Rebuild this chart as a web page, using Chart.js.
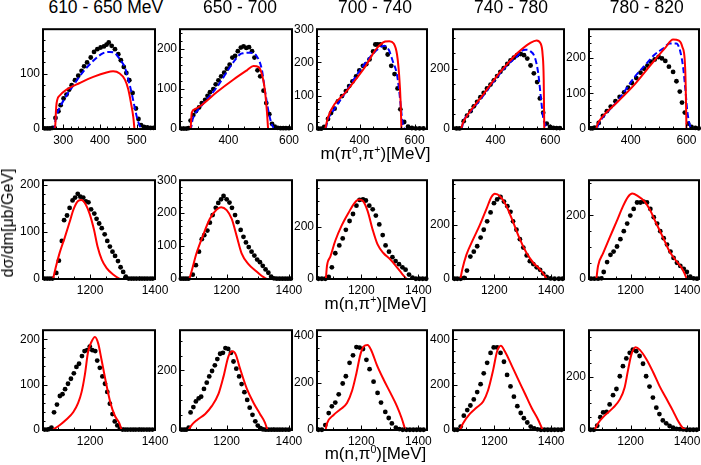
<!DOCTYPE html>
<html><head><meta charset="utf-8">
<script src="https://cdn.jsdelivr.net/npm/chart.js@4.4.0/dist/chart.umd.min.js"></script>
<style>
html,body{margin:0;padding:0;background:#fff;}
body{width:701px;height:465px;position:relative;overflow:hidden;font-family:"Liberation Sans",Arial,sans-serif;}
canvas{position:absolute;}
.t{position:absolute;white-space:nowrap;color:#000;line-height:1;}
.sp{font-size:0.62em;position:relative;top:-0.6em;}
</style></head><body>
<script>
// ---------- text ----------
const colTitles = ["610 - 650 MeV", "650 - 700", "700 - 740", "740 - 780", "780 - 820"];
const rowTitles = ['m(π<span class="sp">o</span>,π<span class="sp">+</span>)[MeV]',
                   'm(n,π<span class="sp">+</span>)[MeV]',
                   'm(n,π<span class="sp">0</span>)[MeV]'];
const yTitle = "dσ/dm[μb/GeV]";

// ---------- axis ranges & tick steps ----------
const xRanges = [
  [[245,550],[240,610],[245,645],[245,650],[250,645]],
  [[1055,1400],[1050,1410],[1045,1430],[1055,1445],[1053,1442]],
  [[1055,1400],[1050,1410],[1045,1430],[1055,1445],[1053,1442]]
];
const yMax = [[180,250,300,330,280],[210,300,380,365,310],[220,335,425,440,375]];
const xSteps = [[100,200,200,200,200],[200,200,200,200,200],[200,200,200,200,200]];
const ySteps = [[100,100,100,200,100],[100,100,200,200,200],[100,200,200,200,200]];

// ---------- row 1: m(pi0,pi+) ----------
const r1c1Dots = [[250,1],[257,1],[264,1],[271,2],[279,20],[287,32],[293,43],[301,55],[309,62],[316,71],[323,79],[332,88],[341,96],[350,105],[357,113],[365,120],[375,129],[384,139],[393,144],[402,147],[411,149],[418,152],[424,156],[432,150],[441,144],[450,135],[457,124],[465,112],[472,101],[480,88],[489,65],[498,37],[505,18],[512,7],[520,4],[529,3],[538,2],[546,2]];
const r1c1Red = [[278,0],[281,40],[284,53],[290,60],[309,71],[345,83],[382,94],[418,102],[436,104],[454,100],[468,89],[477,72],[484,49],[491,21],[494,0]];
const r1c1Blue = [[245,0],[275,0],[280,21],[291,39],[304,55],[327,78],[354,103],[382,123],[409,137],[427,139],[441,137],[454,126],[468,111],[477,90],[486,66],[495,38],[502,18],[509,5],[518,0],[550,0]];

const r1c2Dots = [[245,1],[253,1],[261,1],[268,2],[275,21],[284,35],[293,45],[303,54],[312,65],[323,73],[331,83],[339,92],[350,100],[358,112],[367,122],[376,132],[386,141],[395,151],[404,161],[413,179],[422,183],[431,195],[441,204],[450,207],[459,203],[468,205],[478,195],[486,179],[496,147],[505,132],[516,96],[525,65],[535,37],[544,13],[553,6],[563,3],[572,2],[581,2],[590,2],[600,2]];
const r1c2Red = [[275,0],[279,41],[290,50],[306,57],[361,92],[417,124],[461,147],[483,158],[500,155],[511,136],[520,100],[527,45],[531,0]];
const r1c2Blue = [[240,0],[275,0],[282,25],[306,53],[361,104],[416,167],[438,187],[450,190],[471,191],[493,183],[510,150],[521,95],[532,45],[543,12],[551,2],[560,0],[610,0]];

const r1c3Dots = [[250,1],[260,1],[271,6],[285,30],[296,48],[309,61],[321,83],[336,99],[350,114],[362,129],[374,143],[387,158],[399,176],[412,190],[424,195],[436,209],[449,233],[457,254],[465,254],[475,254],[491,244],[502,224],[515,190],[527,165],[538,122],[548,59],[562,21],[576,7],[590,3],[604,2],[618,2],[632,2]];
const r1c3Red = [[275,0],[285,35],[354,115],[415,181],[463,243],[493,263],[508,264],[524,257],[536,224],[544,158],[549,82],[552,0]];
const r1c3Blue = [[245,0],[275,0],[285,30],[300,50],[350,112],[400,175],[440,218],[466,240],[490,250],[506,238],[520,205],[535,167],[543,122],[551,56],[557,14],[562,2],[568,0],[645,0]];

const r1c4Dots = [[258,2],[269,2],[284,26],[296,44],[309,59],[321,75],[333,90],[345,105],[357,119],[369,134],[382,147],[394,161],[406,175],[418,189],[430,201],[443,215],[455,227],[467,236],[479,244],[492,248],[504,244],[516,233],[528,210],[540,184],[552,155],[562,101],[574,54],[587,18],[599,7],[611,4],[623,3],[635,3]];
const r1c4Red = [[275,0],[279,14],[284,26],[296,44],[355,114],[416,187],[455,227],[480,251],[526,284],[550,293],[565,282],[572,246],[576,163],[578,0]];
const r1c4Blue = [[245,0],[275,0],[284,28],[300,48],[350,104],[400,165],[450,218],[479,240],[495,258],[510,262],[526,258],[544,236],[556,184],[566,101],[574,38],[583,12],[594,0],[650,0]];

const r1c5Dots = [[256,2],[263,2],[270,4],[285,17],[300,37],[314,50],[328,63],[345,78],[360,90],[376,103],[390,116],[404,129],[420,143],[435,158],[448,169],[460,178],[472,189],[486,195],[500,202],[512,198],[524,191],[537,175],[552,160],[564,134],[576,105],[584,74],[594,46],[606,15],[618,6],[632,3],[644,2]];
const r1c5Red = [[276,0],[280,12],[288,24],[354,77],[414,125],[474,182],[522,226],[552,251],[573,248],[585,231],[594,191],[597,129],[600,0]];
const r1c5Blue = [[250,0],[276,0],[285,15],[300,33],[354,80],[415,147],[450,178],[486,209],[516,226],[540,240],[564,240],[578,217],[588,173],[596,112],[603,50],[612,11],[620,0],[645,0]];

// ---------- row 2: m(n,pi+) ----------
const r2c1Dots = [[1060,1],[1068,1],[1076,1],[1084,1],[1096,13],[1104,39],[1113,81],[1120,125],[1129,135],[1137,151],[1146,167],[1154,173],[1162,181],[1170,175],[1179,173],[1187,165],[1195,163],[1203,148],[1213,139],[1220,128],[1228,118],[1236,108],[1245,95],[1253,81],[1261,69],[1269,58],[1277,49],[1286,38],[1294,25],[1302,15],[1310,5],[1319,1],[1327,1],[1335,1],[1343,1],[1352,1],[1360,1],[1368,1],[1376,1],[1385,1],[1393,1]];
const r2c1Red = [[1086,0],[1094,24],[1106,55],[1122,88],[1137,121],[1149,148],[1163,166],[1173,168],[1187,158],[1199,138],[1212,105],[1223,69],[1236,41],[1251,23],[1272,9],[1290,1],[1294,0]];

const r2c2Dots = [[1053,1],[1061,1],[1069,1],[1077,1],[1091,13],[1101,42],[1111,83],[1120,121],[1128,133],[1138,147],[1146,171],[1155,194],[1165,216],[1173,231],[1182,242],[1190,252],[1200,242],[1209,232],[1217,216],[1227,194],[1235,173],[1245,149],[1254,128],[1262,111],[1271,97],[1280,83],[1289,71],[1298,59],[1307,51],[1316,40],[1325,29],[1334,19],[1343,7],[1352,2],[1361,1],[1370,1],[1379,1],[1388,1],[1397,1],[1406,1]];
const r2c2Red = [[1080,0],[1088,26],[1103,78],[1125,135],[1146,183],[1168,211],[1182,218],[1200,209],[1216,183],[1232,131],[1248,78],[1270,45],[1292,26],[1313,9],[1329,0]];

const r2c3Dots = [[1050,1],[1062,1],[1074,1],[1086,8],[1097,45],[1109,99],[1123,129],[1135,156],[1146,189],[1159,223],[1171,250],[1183,282],[1194,304],[1206,306],[1216,302],[1228,282],[1240,268],[1251,244],[1263,210],[1275,169],[1285,129],[1297,105],[1309,84],[1320,69],[1332,57],[1344,45],[1355,36],[1367,17],[1379,5],[1391,1],[1403,1],[1415,1],[1427,1]];
const r2c3Red = [[1076,0],[1080,51],[1092,87],[1109,147],[1132,207],[1156,256],[1176,292],[1191,306],[1205,301],[1222,262],[1240,189],[1257,133],[1278,99],[1302,75],[1325,45],[1342,21],[1358,0]];

const r2c4Dots = [[1060,1],[1070,1],[1082,1],[1094,4],[1104,31],[1116,83],[1128,101],[1140,121],[1152,153],[1163,182],[1175,213],[1187,246],[1199,280],[1210,294],[1222,303],[1234,286],[1246,269],[1257,248],[1266,213],[1278,182],[1290,147],[1302,116],[1314,87],[1325,66],[1337,55],[1349,43],[1361,34],[1372,20],[1384,8],[1398,2],[1412,1],[1427,1],[1440,1]];
const r2c4Red = [[1081,0],[1088,37],[1102,89],[1126,147],[1149,199],[1173,260],[1190,303],[1202,315],[1220,306],[1243,269],[1266,211],[1290,147],[1314,95],[1337,60],[1361,35],[1378,11],[1384,0]];

const r2c5Dots = [[1060,1],[1072,1],[1085,1],[1097,2],[1105,22],[1117,53],[1129,76],[1140,86],[1152,102],[1164,125],[1176,150],[1188,174],[1199,199],[1211,220],[1223,240],[1235,240],[1246,243],[1258,240],[1270,220],[1282,194],[1294,174],[1305,150],[1317,128],[1329,108],[1341,86],[1352,66],[1364,51],[1376,41],[1388,32],[1399,22],[1411,7],[1423,2],[1435,1]];
const r2c5Red = [[1079,0],[1085,41],[1103,81],[1126,130],[1150,179],[1173,228],[1191,258],[1206,268],[1226,260],[1250,243],[1268,218],[1291,174],[1315,130],[1338,86],[1362,56],[1380,36],[1391,17],[1399,0]];

// ---------- row 3: m(n,pi0) ----------
const r3c1Dots = [[1060,1],[1068,1],[1074,2],[1081,5],[1089,39],[1098,56],[1107,75],[1115,79],[1123,90],[1132,102],[1141,113],[1150,125],[1158,139],[1166,146],[1175,163],[1183,174],[1191,176],[1199,184],[1207,176],[1216,174],[1222,153],[1230,137],[1238,118],[1246,102],[1253,84],[1261,58],[1269,35],[1276,19],[1284,10],[1292,3],[1300,1],[1308,1],[1316,1],[1325,1],[1333,1],[1341,1],[1350,1],[1358,1],[1366,1],[1375,1],[1383,1],[1392,1]];
const r3c1Red = [[1084,0],[1107,11],[1127,23],[1148,39],[1163,59],[1174,84],[1184,122],[1194,173],[1204,194],[1215,205],[1225,191],[1235,156],[1248,108],[1263,59],[1276,32],[1290,15],[1297,0]];

const r3c2Dots = [[1055,1],[1063,1],[1070,1],[1078,8],[1084,59],[1093,77],[1101,96],[1110,106],[1118,112],[1127,138],[1136,159],[1144,180],[1153,198],[1162,217],[1170,238],[1179,256],[1188,259],[1196,275],[1205,272],[1214,259],[1222,230],[1231,206],[1240,180],[1248,154],[1257,127],[1266,101],[1274,75],[1283,51],[1292,29],[1300,15],[1309,6],[1317,2],[1326,1],[1335,1],[1344,1],[1353,1],[1362,1],[1371,1],[1380,1],[1390,1],[1400,1]];
const r3c2Red = [[1077,0],[1088,17],[1104,33],[1131,54],[1152,80],[1174,122],[1190,180],[1206,248],[1219,264],[1229,254],[1243,206],[1265,138],[1287,90],[1307,54],[1323,25],[1331,0]];

const r3c3Dots = [[1050,1],[1062,1],[1074,21],[1086,72],[1097,101],[1109,117],[1121,152],[1135,198],[1146,229],[1159,286],[1171,318],[1183,353],[1194,351],[1206,345],[1218,299],[1229,259],[1243,206],[1257,158],[1269,117],[1284,77],[1296,51],[1307,28],[1321,10],[1333,4],[1345,1],[1358,1],[1370,1],[1382,1],[1394,1],[1406,1],[1418,1]];
const r3c3Red = [[1075,0],[1080,28],[1103,64],[1127,88],[1150,115],[1168,168],[1183,242],[1197,322],[1208,355],[1222,362],[1234,342],[1255,275],[1278,215],[1302,158],[1325,101],[1342,48],[1354,0]];

const r3c4Dots = [[1060,1],[1070,1],[1082,15],[1093,63],[1105,88],[1116,108],[1128,135],[1140,167],[1152,202],[1163,250],[1175,296],[1187,340],[1198,364],[1210,364],[1222,340],[1234,301],[1245,243],[1257,192],[1269,147],[1281,105],[1293,75],[1304,52],[1316,33],[1328,15],[1340,7],[1352,3],[1364,1],[1376,1],[1388,1],[1400,1],[1412,1],[1424,1],[1436,1]];
const r3c4Red = [[1079,0],[1090,29],[1114,71],[1137,98],[1161,126],[1178,174],[1196,264],[1210,347],[1223,371],[1237,347],[1261,285],[1284,223],[1308,160],[1331,98],[1355,43],[1370,0]];

const r3c5Dots = [[1058,1],[1070,1],[1082,16],[1093,48],[1103,66],[1115,68],[1126,96],[1138,131],[1150,154],[1162,202],[1173,240],[1185,269],[1197,290],[1208,302],[1220,296],[1232,278],[1244,249],[1255,202],[1267,163],[1279,122],[1291,84],[1302,60],[1314,36],[1326,25],[1338,15],[1350,9],[1362,4],[1374,3],[1386,2],[1398,1],[1410,1],[1422,1],[1434,1]];
const r3c5Red = [[1073,0],[1085,25],[1108,54],[1138,83],[1162,115],[1179,160],[1191,225],[1203,284],[1218,311],[1232,302],[1256,266],[1279,219],[1302,166],[1326,119],[1350,72],[1367,36],[1385,7],[1397,0]];

const panelSeries = [
  [[r1c1Dots,r1c1Red,r1c1Blue],[r1c2Dots,r1c2Red,r1c2Blue],[r1c3Dots,r1c3Red,r1c3Blue],[r1c4Dots,r1c4Red,r1c4Blue],[r1c5Dots,r1c5Red,r1c5Blue]],
  [[r2c1Dots,r2c1Red,null],[r2c2Dots,r2c2Red,null],[r2c3Dots,r2c3Red,null],[r2c4Dots,r2c4Red,null],[r2c5Dots,r2c5Red,null]],
  [[r3c1Dots,r3c1Red,null],[r3c2Dots,r3c2Red,null],[r3c3Dots,r3c3Red,null],[r3c4Dots,r3c4Red,null],[r3c5Dots,r3c5Red,null]]
];

// ---------- layout (frame rectangles in page pixels) ----------
const COLS = [[43,155],[180,292],[317,427],[453,564],[589,699]];
const ROWS = [[23,129],[174,279],[324,430]];
const PADL = 40, PADB = 24, PADT = 4, PADR = 18;
const TICKFONT = {family: "'Liberation Sans', Arial, sans-serif", size: 12};

const toXY = arr => arr.map(([x, y]) => ({x, y}));
function multiples(min, max, step) {
  const out = [];
  for (let k = Math.ceil(min / step); k * step <= max + 1e-9; k++) out.push(k * step);
  return out;
}

const framePlugin = {
  id: 'frame',
  afterDatasetsDraw(chart, args, opts) {
    const {ctx, chartArea: a, scales: {x, y}} = chart;
    ctx.save();
    ctx.strokeStyle = '#000';
    ctx.lineWidth = 1;
    ctx.beginPath();
    const xm = opts.xMinor, xM = opts.xMajor;
    for (let k = Math.ceil(x.min / xm); k * xm <= x.max; k++) {
      const v = k * xm;
      const px = Math.round(x.getPixelForValue(v)) + 0.5;
      const len = (Math.abs(v / xM - Math.round(v / xM)) < 1e-6) ? 4.5 : 2.5;
      ctx.moveTo(px, a.bottom); ctx.lineTo(px, a.bottom - len);
    }
    const ym = opts.yMinor, yM = opts.yMajor;
    for (let k = Math.ceil(y.min / ym); k * ym <= y.max; k++) {
      const v = k * ym;
      const py = Math.round(y.getPixelForValue(v)) + 0.5;
      const len = (Math.abs(v / yM - Math.round(v / yM)) < 1e-6) ? 4.5 : 2.5;
      ctx.moveTo(a.left, py); ctx.lineTo(a.left + len, py);
    }
    ctx.stroke();
    ctx.lineWidth = 2;
    ctx.strokeRect(a.left, a.top, a.right - a.left, a.bottom - a.top);
    ctx.restore();
  }
};

function makePanel(r, c) {
  const [x0, x1] = COLS[c], [y0, y1] = ROWS[r];
  const w = x1 - x0, h = y1 - y0;
  const W = PADL + w + PADR, H = PADT + h + PADB;
  const cv = document.createElement('canvas');
  cv.width = W; cv.height = H;
  cv.style.left = (x0 - PADL) + 'px'; cv.style.top = (y0 - PADT) + 'px';
  cv.style.width = W + 'px'; cv.style.height = H + 'px';
  document.body.appendChild(cv);

  const [dots, red, blue] = panelSeries[r][c];
  const [xmin, xmax] = xRanges[r][c];
  const ymax = yMax[r][c];
  const xs = xSteps[r][c], ys = ySteps[r][c];
  const xMinor = xs === 100 ? 20 : 50, yMinor = ys === 100 ? 20 : 50;

  const datasets = [];
  datasets.push({data: toXY(red), showLine: true, borderColor: '#ff0000', borderWidth: 2,
                 pointRadius: 0, cubicInterpolationMode: 'monotone', clip: 2});
  if (blue) datasets.push({data: toXY(blue), showLine: true, borderColor: '#0000ff', borderWidth: 2,
                 borderDash: [6, 3], pointRadius: 0, cubicInterpolationMode: 'monotone', clip: 2});
  datasets.push({data: toXY(dots), showLine: false, pointRadius: 2.4, pointBorderWidth: 0,
                 pointBackgroundColor: '#000', backgroundColor: '#000', borderWidth: 0, clip: 6});

  new Chart(cv, {
    type: 'scatter',
    data: {datasets},
    options: {
      responsive: false, animation: false, devicePixelRatio: 1,
      events: [],
      layout: {autoPadding: false, padding: {top: PADT, right: PADR, left: 0, bottom: 0}},
      plugins: {legend: {display: false}, tooltip: {enabled: false},
                frame: {xMajor: xs, xMinor, yMajor: ys, yMinor}},
      scales: {
        x: {type: 'linear', position: 'bottom', min: xmin, max: xmax,
            afterFit: s => { s.height = PADB; },
            afterBuildTicks: s => { s.ticks = multiples(xmin, xmax, xs).map(v => ({value: v})); },
            grid: {display: false, drawTicks: false}, border: {display: false},
            ticks: {font: TICKFONT, color: '#000', padding: 4.5, maxRotation: 0, autoSkip: false,
                    callback: v => String(v)}},
        y: {type: 'linear', position: 'left', min: 0, max: ymax,
            afterFit: s => { s.width = PADL; },
            afterBuildTicks: s => { s.ticks = multiples(0, ymax, ys).map(v => ({value: v})); },
            grid: {display: false, drawTicks: false}, border: {display: false},
            ticks: {font: TICKFONT, color: '#000', padding: 3, autoSkip: false,
                    callback: v => String(v)}}
      }
    },
    plugins: [framePlugin]
  });
}

for (let r = 0; r < 3; r++) for (let c = 0; c < 5; c++) makePanel(r, c);

// ---------- text elements ----------
function addText(html, cx, baseline, fs) {
  const d = document.createElement('div');
  d.className = 't';
  d.innerHTML = html;
  d.style.fontSize = fs + 'px';
  d.style.top = (baseline - 0.8465 * fs) + 'px';
  d.style.left = cx + 'px';
  d.style.transform = 'translateX(-50%)';
  document.body.appendChild(d);
}
const titleCenters = [105.8, 240, 375, 511, 646.7];
colTitles.forEach((t, i) => addText(t, titleCenters[i], 14.2, 17.5));
const rowTitleBaselines = [159.3, 309.4, 459.5];
rowTitles.forEach((t, i) => addText(t, 375.5, rowTitleBaselines[i], 17));

const yt = document.createElement('div');
yt.className = 't';
yt.textContent = yTitle;
yt.style.fontSize = '16px';
yt.style.left = '7.5px';
yt.style.top = '223px';
yt.style.transform = 'translate(-50%,-50%) rotate(-90deg)';
document.body.appendChild(yt);
</script>
</body></html>
